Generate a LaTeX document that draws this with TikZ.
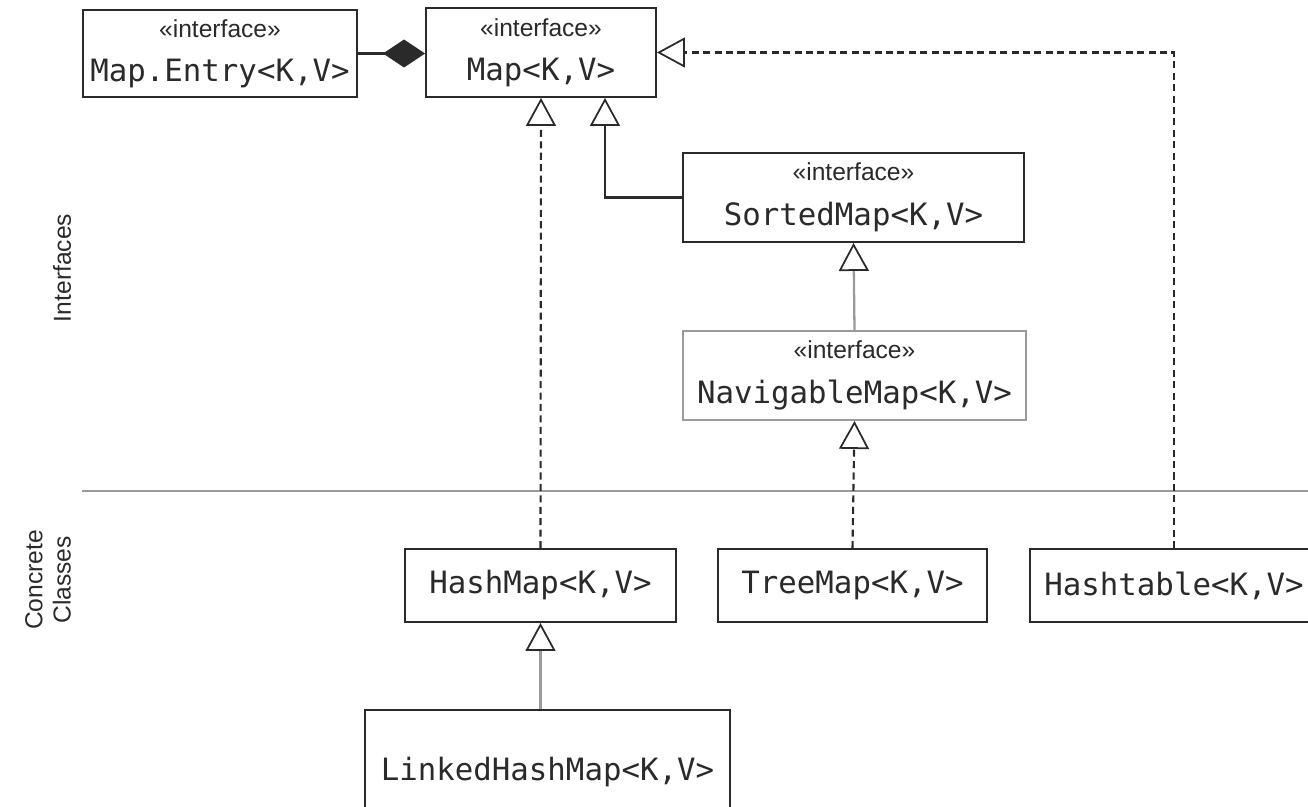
\documentclass[tikz,border=0pt]{standalone}
\usepackage{fontspec}
\setmainfont{Liberation Sans}
\newfontfamily\codefam{DejaVu Sans Mono}
\usetikzlibrary{arrows.meta}
\definecolor{linegray}{HTML}{9A9A9A}
\definecolor{inkdark}{HTML}{2A2A2A}
\newcommand{\stereo}{{\fontsize{14}{16}\selectfont «interface»}}
\newcommand{\code}[1]{{\codefam\fontsize{17.5}{20}\selectfont #1}}
\tikzset{
  box/.style={draw=inkdark,line width=1.1pt,fill=white,inner sep=0pt,
    align=center,text=inkdark},
  graybox/.style={box,draw=linegray},
  opentri/.style={-{Triangle[open,length=0.56cm,width=0.6cm,fill=white,color=inkdark,line width=1pt]}},
  realize/.style={opentri,draw=inkdark,line width=1.2pt,dash pattern=on 4pt off 2.5pt},
  extend/.style={opentri,draw=inkdark,line width=1.2pt},
  grayextend/.style={opentri,draw=linegray,line width=1.3pt}
}

\begin{document}
\begin{tikzpicture}[x=0.02cm,y=-0.02cm]
                \useasboundingbox(0,0)rectangle(1308,807);
                % separator
                \draw[linegray,line width=1pt](82,491)--(1308,491);
                \node[rotate=90,text=inkdark,font=\fontsize{14}{16}\selectfont](ifaces)at(62,268){Interfaces};
                \node[rotate=90,align=center,text=inkdark,font=\fontsize{14}{16}\selectfont](concrete)at(48,580){Concrete\\Classes};
                % interfaces
                \node[box,minimum width=5.48cm,minimum height=1.74cm](entry)at(220,53.5){\stereo\\[11pt]\code{Map.Entry<K,V>}};
                \node[box,minimum width=4.6cm,minimum height=1.78cm](map)at(541,52.5){\stereo\\[11pt]\code{Map<K,V>}};
                \node[box,minimum width=6.82cm,minimum height=1.78cm](sorted)at(853.5,197.5){\stereo\\[11pt]\code{SortedMap<K,V>}};
                \node[graybox,minimum width=6.86cm,minimum height=1.78cm](navigable)at(854.5,375.5){\stereo\\[11pt]\code{NavigableMap<K,V>}};
                % classes
                \node[box,minimum width=5.42cm,minimum height=1.46cm](hashmap)at(540.5,585.5){\code{HashMap<K,V>}};
                \node[box,minimum width=5.38cm,minimum height=1.46cm](treemap)at(852.5,585.5){\code{TreeMap<K,V>}};
                \node[box,minimum width=5.76cm,minimum height=1.46cm](hashtable)at(1174,585.5){\code{Hashtable<K,V>}};
                \node[box,minimum width=7.3cm,minimum height=2.48cm](linked)at(547.5,772){\code{LinkedHashMap<K,V>}};
                % connectors
                \draw[draw=inkdark,line width=1.2pt,-{Diamond[length=0.84cm,width=0.56cm]}](entry.east)--(entry.east-|map.west);
                \draw[realize](hashmap.north)--(map.south);
                \draw[extend](sorted.west)-|([xshift=1.28cm]map.south);
                \draw[grayextend](navigable.north)--(sorted.south);
                \draw[realize](treemap.north)--(navigable.south);
                \draw[grayextend](linked.north-|hashmap.south)--(hashmap.south);
                \draw[realize](hashtable.north)|-(map.east);
            \end{tikzpicture}
\end{document}
